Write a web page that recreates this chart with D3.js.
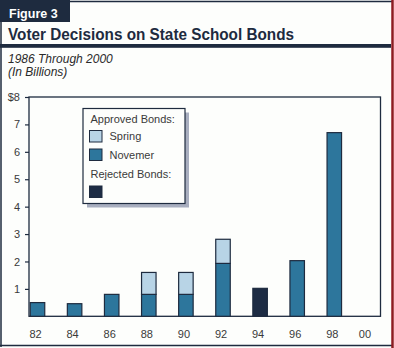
<!DOCTYPE html>
<html><head><meta charset="utf-8">
<script src="https://cdn.jsdelivr.net/npm/d3@7"></script>
<style>
html,body{margin:0;padding:0;background:#fdfefc;}
svg{display:block;font-family:"Liberation Sans",Arial,sans-serif;}
</style></head>
<body>
<svg id="c" width="394" height="348"></svg>
<script>
const years = ["82","84","86","88","90","92","94","96","98","00"];
const november = [0.5,0.46,0.8,0.8,0.8,1.93,0,2.03,6.7,0];
const spring   = [0,0,0,0.8,0.8,0.88,0,0,0,0];
const rejected = [0,0,0,0,0,0,1.02,0,0,0];
const yTicks = [1,2,3,4,5,6,7,8];
const legendItems = [
  {label:"Approved Bonds:", key:null},
  {label:"Spring", key:"spring"},
  {label:"Novemer", key:"november"},
  {label:"Rejected Bonds:", key:null},
  {label:"", key:"rejected"}
];
const colors = {november:"#2d769c", spring:"#b8d4e6", rejected:"#1d2c44"};
const navy = "#1e2b3f";

const svg = d3.select("#c");
svg.append("rect").attr("width",394).attr("height",348).attr("fill","#fdfefc");

// frame
svg.append("line").attr("x1",0).attr("x2",392).attr("y1",1.5).attr("y2",1.5).attr("stroke",navy).attr("stroke-width",1.5);
svg.append("line").attr("x1",1).attr("x2",1).attr("y1",0).attr("y2",347).attr("stroke",navy).attr("stroke-width",1.5);
svg.append("line").attr("x1",0).attr("x2",392).attr("y1",345.5).attr("y2",345.5).attr("stroke",navy).attr("stroke-width",1.5);
svg.append("line").attr("x1",392.5).attr("x2",392.5).attr("y1",0).attr("y2",348).attr("stroke","#8e1b22").attr("stroke-width",2.5);

// figure tab
svg.append("rect").attr("x",0).attr("y",0).attr("width",70).attr("height",22).attr("fill",navy);
svg.append("text").attr("x",9).attr("y",17.5).attr("fill","#fff").attr("font-weight","bold").attr("font-size",12.5).text("Figure 3");

// title
svg.append("text").attr("x",8).attr("y",39.5).attr("fill",navy).attr("font-weight","bold").attr("font-size",15.6)
  .attr("textLength",286).attr("lengthAdjust","spacingAndGlyphs").text("Voter Decisions on State School Bonds");
svg.append("rect").attr("x",0).attr("y",44).attr("width",391).attr("height",3.8).attr("fill",navy);
svg.append("text").attr("x",8).attr("y",62.5).attr("fill","#2a2a2a").attr("font-style","italic").attr("font-size",12).text("1986 Through 2000");
svg.append("text").attr("x",8).attr("y",76).attr("fill","#2a2a2a").attr("font-style","italic").attr("font-size",12).text("(In Billions)");

// scales
const plot = {l:29, r:380.5, t:97, b:316.3};
const x = d3.scalePoint().domain(years).range([37.5, 371.4]);
const bw = 14.5;
const y = d3.scaleLinear().domain([0,8]).range([plot.b, plot.t]);

// plot box
svg.append("rect").attr("x",plot.l).attr("y",plot.t).attr("width",plot.r-plot.l).attr("height",plot.b-plot.t)
  .attr("fill","none").attr("stroke",navy).attr("stroke-width",1.3);

// bars
const rows = years.map((yr,i)=>({year:yr, november:november[i], spring:spring[i], rejected:rejected[i]}));
const stack = d3.stack().keys(["november","spring","rejected"])(rows);
stack.forEach(s=>{
  svg.append("g").selectAll("rect").data(s.filter(d=>d[1]-d[0]>0)).join("rect")
    .attr("x",d=>x(d.data.year)-bw/2).attr("width",bw)
    .attr("y",d=>y(d[1])).attr("height",d=>y(d[0])-y(d[1]))
    .attr("fill",colors[s.key]).attr("stroke",navy).attr("stroke-width",1.2);
});

// y axis
const yAxis = svg.append("g").attr("transform",`translate(${plot.l},0)`)
  .call(d3.axisLeft(y).tickValues(yTicks).tickSize(4).tickFormat(d=>d===8?"$8":d));
yAxis.select(".domain").remove();
yAxis.selectAll("line").attr("stroke",navy).attr("stroke-width",1.2);
yAxis.selectAll("text").attr("x",-9).attr("fill","#3a3a3a").attr("font-size",11).attr("font-family","Liberation Sans, Arial, sans-serif");

// x axis
const xAxis = svg.append("g").attr("transform",`translate(-2.5,${plot.b})`)
  .call(d3.axisBottom(x).tickSize(0));
xAxis.select(".domain").remove();
xAxis.selectAll("text").attr("y",14).attr("dy","0.71em").attr("fill","#3a3a3a").attr("font-size",11).attr("font-family","Liberation Sans, Arial, sans-serif")
  .attr("dx",d=>d==="00"?-4.5:0);

// legend
const lg = {x:83, y:108.5, w:102, h:95};
svg.append("rect").attr("x",lg.x+4).attr("y",lg.y+4).attr("width",lg.w).attr("height",lg.h).attr("fill","#a8aebf");
svg.append("rect").attr("x",lg.x).attr("y",lg.y).attr("width",lg.w).attr("height",lg.h).attr("fill","#fdfefc").attr("stroke",navy).attr("stroke-width",1.2);
const rowY = [118.7, 136.5, 155, 174.3, 192];
legendItems.forEach((it,i)=>{
  if(it.key){
    svg.append("rect").attr("x",89.5).attr("y",rowY[i]-6).attr("width",12.5).attr("height",11.5)
      .attr("fill",colors[it.key]).attr("stroke",navy).attr("stroke-width",1);
    if(it.label) svg.append("text").attr("x",109.5).attr("y",rowY[i]).attr("dy","0.35em").attr("fill","#3a3a3a").attr("font-size",11).text(it.label);
  } else {
    svg.append("text").attr("x",90.5).attr("y",rowY[i]).attr("dy","0.35em").attr("fill","#3a3a3a").attr("font-size",11).text(it.label);
  }
});
</script>
</body></html>
